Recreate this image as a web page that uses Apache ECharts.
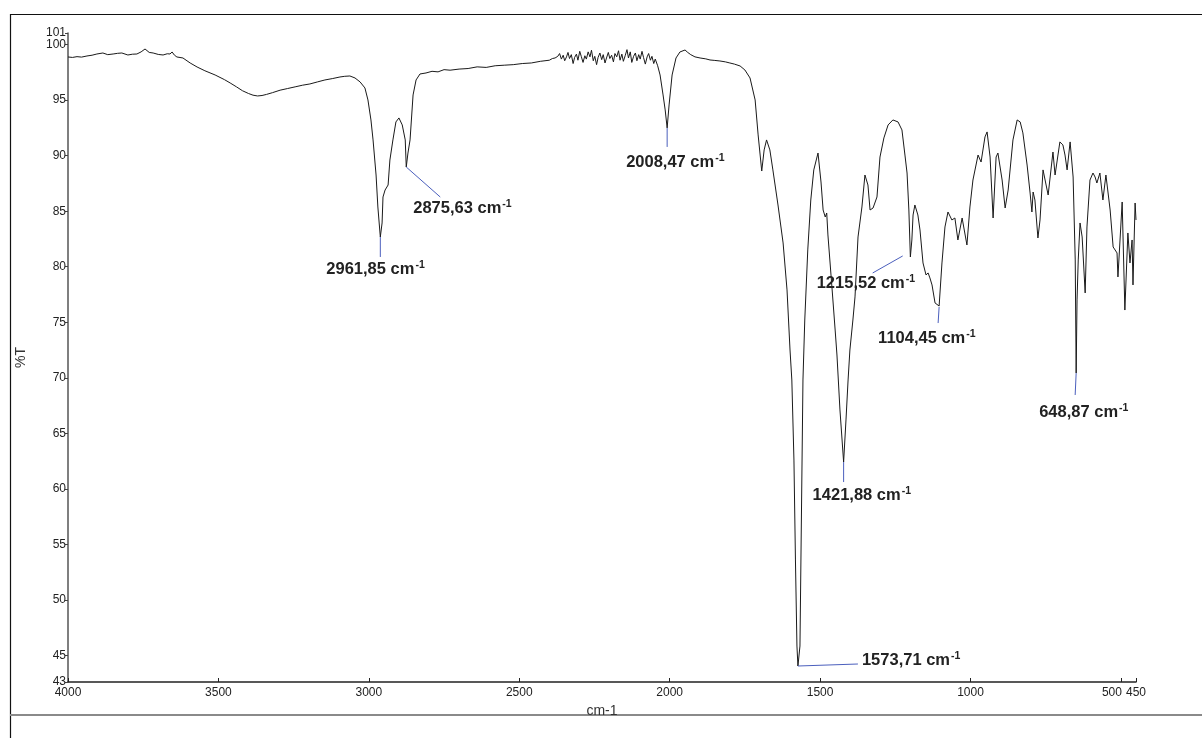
<!DOCTYPE html>
<html>
<head>
<meta charset="utf-8">
<script src="https://cdn.jsdelivr.net/npm/echarts@6/dist/echarts.min.js"></script>
<style>
html,body{margin:0;padding:0;background:#fff;}
#main{width:1202px;height:738px;}
</style>
</head>
<body>
<div id="main"></div>
<script>
// ---- data ----
const wavenumbers = [
 4000,3985,3970,3955,3937,3920,3904,3884,3868,3850,3835,3821,3801,3786,3771,3757,3744,3730,3717,3700,
 3684,3670,3661,3654,3646,3638,3618,3594,3571,3545,3511,3480,3461,3440,3420,3400,3385,3370,3355,3340,
 3320,3295,3270,3245,3220,3196,3170,3146,3120,3096,3080,3063,3046,3029,3013,3003,2993,2986,2976,2970,
 2961.85,2956,2953,2946,2936,2930,2920,2910,2900,2889,2879,2875.63,2870,2863,2853,2843,2830,2810,2790,2770,
 2750,2730,2700,2670,2640,2610,2580,2550,2520,2490,2460,2430,2400,2390,2381,2372,2366,2360,2354,2349,
 2343,2338,2333,2327,2321,2316,2310,2305,2299,2294,2288,2282,2277,2271,2265,2260,2254,2249,2243,2238,
 2232,2226,2221,2215,2210,2204,2199,2193,2187,2182,2176,2170,2165,2159,2154,2148,2142,2137,2131,2126,
 2120,2114,2109,2103,2098,2092,2087,2081,2075,2070,2064,2059,2053,2048,2040,2032,2022,2015,2008.47,2002,
 1992,1979,1966,1949,1940,1930,1916,1899,1880,1866,1850,1833,1815,1800,1785,1766,1750,1733,1716,1706,
 1694,1686,1678,1667,1657,1640,1623,1610,1600,1594,1587,1582,1577,1573.71,1567,1562,1557,1551,1541,1531,
 1521,1507,1497,1490,1483,1478,1474,1460,1450,1444,1434,1421.88,1414,1407,1401,1391,1384,1374,1361,1351,
 1341,1334,1324,1311,1301,1288,1274,1258,1241,1228,1218,1211,1205,1200,1195,1191,1185,1175,1168,1158,
 1148,1141,1135,1128,1118,1104.45,1095,1085,1075,1062,1052,1042,1028,1022,1012,1002,992,975,965,952,
 945,935,925,915,909,895,885,875,859,845,835,826,812,802,796,792,786,776,769,759,
 742,726,719,703,693,686,679,669,659,652,648.87,646,642,636,629,619,613,603,593,586,
 580,570,560,550,536,526,513,510,496,487,477,470,463,460,453,450
];
const transmittance = [
 98.89,98.85,98.92,98.88,98.98,99.05,99.16,99.25,99.10,99.16,99.22,99.25,99.07,99.14,99.16,99.35,99.61,99.30,99.25,99.12,
 99.07,99.18,99.16,99.34,99.05,98.89,98.80,98.35,97.99,97.65,97.27,96.85,96.55,96.20,95.85,95.60,95.45,95.38,95.42,95.52,
 95.68,95.90,96.05,96.20,96.35,96.46,96.65,96.82,96.95,97.09,97.15,97.18,97.00,96.64,96.10,95.02,93.22,91.42,88.26,85.38,
 82.68,83.94,86.28,86.91,87.36,89.61,91.42,93.04,93.40,92.77,91.42,88.98,90.24,91.42,95.47,96.82,97.36,97.45,97.60,97.55,
 97.75,97.70,97.80,97.85,98.00,97.95,98.10,98.15,98.20,98.30,98.35,98.50,98.60,98.75,98.80,98.95,99.20,98.70,99.05,98.55,
 98.90,99.30,98.75,99.10,98.30,98.85,99.15,98.60,99.40,98.95,98.40,99.00,98.70,99.35,98.90,99.50,98.55,98.95,98.20,98.85,
 99.25,98.65,99.10,98.35,98.80,99.30,98.75,99.05,98.45,99.20,98.90,99.45,98.60,99.15,98.50,99.00,99.55,98.80,99.35,98.40,
 98.95,99.25,98.55,99.10,98.70,99.40,98.85,98.25,98.90,99.20,98.60,98.95,98.30,98.70,98.10,97.27,95.47,94.12,92.50,94.57,
 97.27,98.80,99.34,99.52,99.30,99.10,98.90,98.80,98.72,98.62,98.58,98.53,98.45,98.35,98.25,98.08,97.72,97.00,95.02,91.87,
 88.62,90.52,91.42,90.52,88.72,85.56,82.14,77.91,72.50,69.80,62.59,53.59,45.84,44.04,45.84,57.82,69.80,75.20,81.51,86.01,
 88.72,90.24,87.63,85.11,84.48,84.84,82.86,77.91,74.30,72.05,67.10,62.41,66.20,69.80,72.50,75.20,77.28,82.68,85.38,88.26,
 87.36,85.11,85.29,86.28,89.88,91.60,92.77,93.22,93.04,92.32,90.06,88.44,85.11,80.88,82.41,84.66,85.56,84.66,83.31,80.34,
 79.26,79.44,78.99,78.36,76.74,76.46,80.34,83.58,84.93,84.21,84.39,82.41,84.39,84.48,81.96,85.38,87.81,90.06,89.43,91.69,
 92.14,89.88,84.39,89.88,90.24,87.81,85.29,86.91,91.42,93.22,93.04,92.05,89.16,86.64,84.93,86.73,86.01,82.59,84.21,88.72,
 86.46,90.33,88.26,91.24,90.97,90.06,88.72,91.24,88.08,80.61,70.43,77.01,80.61,83.94,82.68,77.64,83.58,87.81,88.44,88.08,
 87.54,88.44,86.01,88.26,85.11,81.78,81.24,79.08,85.83,76.10,83.04,80.34,82.41,78.36,85.74,84.21
];
const xTickValues = [4000,3500,3000,2500,2000,1500,1000,500,450];
const yTickValues = [42.6,45,50,55,60,65,70,75,80,85,90,95,100];
const yTopTickValues = [101.05];
const peakWavenumbers = [2961.85,2875.63,2008.47,1573.71,1421.88,1215.52,1104.45,648.87];
const peakTransmittance = [82.68,88.98,92.50,44.04,62.41,80.88,76.46,70.43];
const peakLabels = ['2961,85','2875,63','2008,47','1573,71','1421,88','1215,52','1104,45','648,87'];

// ---- layout of the annotation leaders/texts (pixel offsets from each peak) ----
const annotLayout = [
 {l:[0,0,0,20],   t:[-54,32]},
 {l:[0,0,34,30],  t:[7,41]},
 {l:[0,0,0,19],   t:[-41,34]},
 {l:[0,0,60,-2],  t:[64,-6]},
 {l:[0,0,0,20],   t:[-31,33]},
 {l:[-3,-1,-33,16], t:[-89,26]},
 {l:[0,1,-1,17],  t:[-61,32]},
 {l:[0,0,-1,22],  t:[-37,39]}
];

const seriesData = wavenumbers.map((w,i)=>[w, transmittance[i]]);
const FONT = '"Liberation Sans", Arial, sans-serif';
const yLabelStyle = {fontFamily:FONT, fontSize:12, color:'#222', margin:2,
  formatter:function(v){ return String(Math.round(v)); }};

const chart = echarts.init(document.getElementById('main'), null, {renderer:'canvas'});
chart.setOption({
  animation:false,
  backgroundColor:'#fff',
  grid:{left:68, right:66, top:33, bottom:56},
  xAxis:{
    type:'value', inverse:true, min:450, max:4000,
    name:'cm-1', nameLocation:'middle', nameGap:16,
    nameTextStyle:{fontFamily:FONT, fontSize:14, color:'#333'},
    axisLine:{show:true, onZero:false, lineStyle:{color:'#222', width:1.5}},
    axisTick:{show:true, inside:true, length:4, customValues:xTickValues, lineStyle:{color:'#222'}},
    axisLabel:{customValues:xTickValues, hideOverlap:false, showMinLabel:true, showMaxLabel:true,
      fontFamily:FONT, fontSize:12, color:'#222', margin:5,
      formatter:function(v){ if(v===500) return '{r|500}'; return String(v); },
      rich:{r:{fontFamily:FONT, fontSize:12, color:'#222', padding:[0,18,0,0]}}},
    splitLine:{show:false}
  },
  yAxis:[{
    type:'value', min:42.6, max:101.05,
    name:'%T', nameLocation:'middle', nameGap:40, nameRotate:90,
    nameTextStyle:{fontFamily:FONT, fontSize:14, color:'#333'},
    axisLine:{show:true, onZero:false, lineStyle:{color:'#555', width:1.5}},
    axisTick:{show:true, length:3, customValues:yTickValues, lineStyle:{color:'#444'}},
    axisLabel:Object.assign({customValues:yTickValues, hideOverlap:false, showMinLabel:true, showMaxLabel:true}, yLabelStyle),
    splitLine:{show:false}
  },{
    type:'value', min:42.6, max:101.05, position:'left',
    axisLine:{show:false},
    axisTick:{show:true, length:3, customValues:yTopTickValues, lineStyle:{color:'#444'}},
    axisLabel:Object.assign({customValues:yTopTickValues, showMaxLabel:true}, yLabelStyle),
    splitLine:{show:false}
  }],
  series:[{
    type:'line', data:seriesData, showSymbol:false, symbol:'none',
    lineStyle:{color:'#1a1a1a', width:1}, z:5
  }]
});

const graphics = [
  {type:'line', shape:{x1:10.5, y1:14, x2:10.5, y2:738}, style:{stroke:'#111', lineWidth:1.2}, silent:true},
  {type:'line', shape:{x1:10, y1:14.5, x2:1202, y2:14.5}, style:{stroke:'#111', lineWidth:1.2}, silent:true},
  {type:'line', shape:{x1:10, y1:715, x2:1202, y2:715}, style:{stroke:'#8a8a8a', lineWidth:2}, silent:true}
];
peakWavenumbers.forEach(function(w,i){
  const p = chart.convertToPixel({xAxisIndex:0, yAxisIndex:0}, [w, peakTransmittance[i]]);
  const L = annotLayout[i];
  graphics.push({type:'line', z:20, silent:true,
    shape:{x1:p[0]+L.l[0], y1:p[1]+L.l[1], x2:p[0]+L.l[2], y2:p[1]+L.l[3]},
    style:{stroke:'#4b5fbd', lineWidth:1}});
  graphics.push({type:'text', z:20, silent:true, x:p[0]+L.t[0], y:p[1]+L.t[1],
    style:{text:'{b|'+peakLabels[i]+' cm}{s|-1}', align:'left', verticalAlign:'middle',
      rich:{
        b:{fontFamily:FONT, fontSize:16.5, fontWeight:'bold', fill:'#222', color:'#222', lineHeight:18, verticalAlign:'bottom'},
        s:{fontFamily:FONT, fontSize:10.5, fontWeight:'bold', fill:'#222', color:'#222', lineHeight:18, verticalAlign:'top', padding:[0,0,0,1]}
      }}});
});
chart.setOption({graphic:graphics});
</script>
</body>
</html>
